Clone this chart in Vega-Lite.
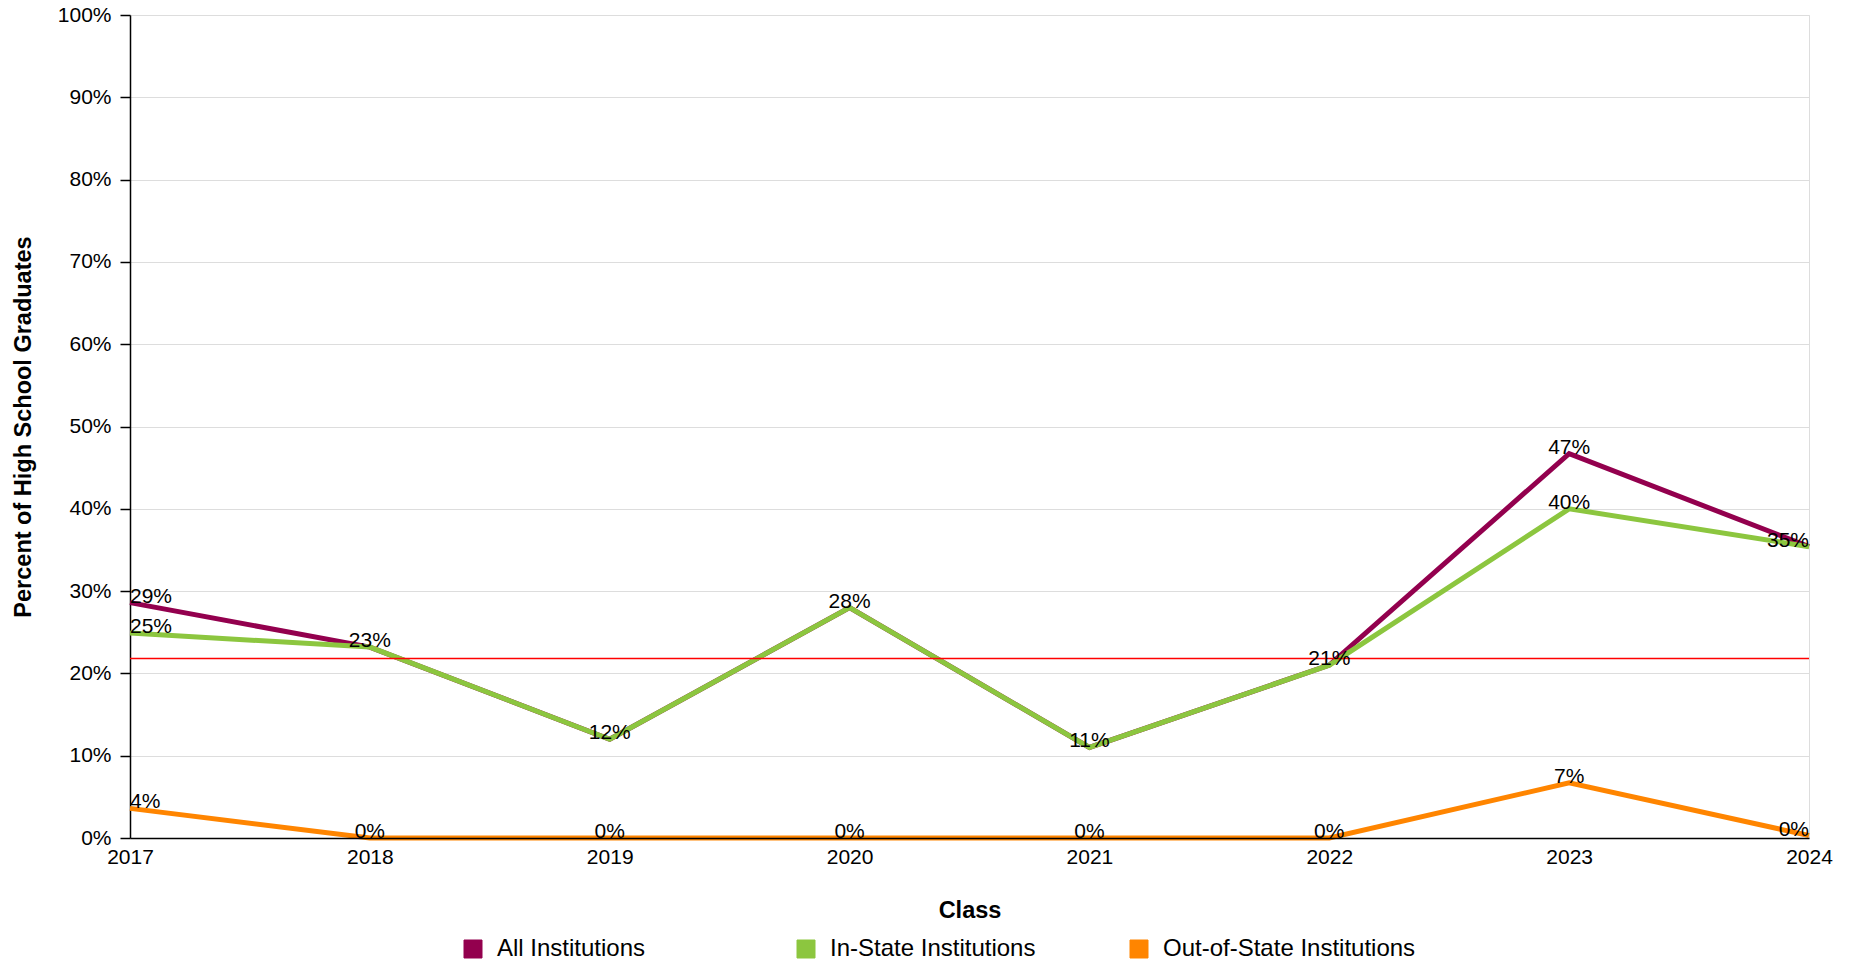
{
  "$schema": "https://vega.github.io/schema/vega-lite/v6.json",
  "width": 1679,
  "height": 823,
  "autosize": {"type": "none"},
  "padding": {"left": 130, "top": 15, "right": 47, "bottom": 126},
  "background": "white",
  "config": {"font": "Liberation Sans", "view": {"stroke": "#dddddd"}},
  "datasets": {
    "rates": [
      {"Class": "2017", "Series": "All Institutions", "Percent": 0.286},
      {"Class": "2018", "Series": "All Institutions", "Percent": 0.232},
      {"Class": "2019", "Series": "All Institutions", "Percent": 0.12},
      {"Class": "2020", "Series": "All Institutions", "Percent": 0.28},
      {"Class": "2021", "Series": "All Institutions", "Percent": 0.11},
      {"Class": "2022", "Series": "All Institutions", "Percent": 0.21},
      {"Class": "2023", "Series": "All Institutions", "Percent": 0.467},
      {"Class": "2024", "Series": "All Institutions", "Percent": 0.354},
      {"Class": "2017", "Series": "In-State Institutions", "Percent": 0.249},
      {"Class": "2018", "Series": "In-State Institutions", "Percent": 0.232},
      {"Class": "2019", "Series": "In-State Institutions", "Percent": 0.12},
      {"Class": "2020", "Series": "In-State Institutions", "Percent": 0.28},
      {"Class": "2021", "Series": "In-State Institutions", "Percent": 0.11},
      {"Class": "2022", "Series": "In-State Institutions", "Percent": 0.21},
      {"Class": "2023", "Series": "In-State Institutions", "Percent": 0.4},
      {"Class": "2024", "Series": "In-State Institutions", "Percent": 0.354},
      {"Class": "2017", "Series": "Out-of-State Institutions", "Percent": 0.036},
      {"Class": "2018", "Series": "Out-of-State Institutions", "Percent": 0},
      {"Class": "2019", "Series": "Out-of-State Institutions", "Percent": 0},
      {"Class": "2020", "Series": "Out-of-State Institutions", "Percent": 0},
      {"Class": "2021", "Series": "Out-of-State Institutions", "Percent": 0},
      {"Class": "2022", "Series": "Out-of-State Institutions", "Percent": 0},
      {"Class": "2023", "Series": "Out-of-State Institutions", "Percent": 0.067},
      {"Class": "2024", "Series": "Out-of-State Institutions", "Percent": 0.003}
    ],
    "reference": [{"Percent": 0.218}]
  },
  "data": {"name": "rates"},
  "layer": [
    {
      "mark": {"type": "line", "strokeWidth": 5},
      "encoding": {
        "x": {
          "field": "Class", "type": "ordinal",
          "scale": {"type": "point", "padding": 0},
          "axis": {
            "title": "Class", "titleFontSize": 23.5, "titleFontWeight": "bold", "titleColor": "black",
            "titlePadding": 31, "labelFontSize": 21, "labelColor": "black", "labelAngle": 0,
            "labelPadding": 8, "ticks": false, "domainColor": "black", "domainWidth": 1.5,
            "grid": false, "zindex": 1
          }
        },
        "y": {
          "field": "Percent", "type": "quantitative",
          "scale": {"domain": [0, 1], "nice": false},
          "axis": {
            "title": "Percent of High School Graduates", "titleFontSize": 23.5, "titleFontWeight": "bold",
            "titleColor": "black", "titlePadding": 22, "format": ".0%",
            "values": [0, 0.1, 0.2, 0.3, 0.4, 0.5, 0.6, 0.7, 0.8, 0.9, 1],
            "labelFontSize": 21, "labelColor": "black", "labelPadding": 9, "labelFlush": false,
            "labelOverlap": false, "tickColor": "black", "tickSize": 10, "tickWidth": 1.5,
            "domainColor": "black", "domainWidth": 1.5, "gridColor": "#dddddd", "gridWidth": 1.2
          }
        },
        "color": {
          "field": "Series", "type": "nominal",
          "scale": {
            "domain": ["All Institutions", "In-State Institutions", "Out-of-State Institutions"],
            "range": ["#93004e", "#8cc63f", "#ff8500"]
          },
          "legend": {
            "title": null, "orient": "none", "legendX": 331, "legendY": 922,
            "direction": "horizontal", "columns": 3, "gridAlign": "all", "columnPadding": 44,
            "labelFontSize": 24, "labelColor": "black", "labelOffset": 12, "labelLimit": 600,
            "symbolType": "square", "symbolSize": 324,
            "encode": {
              "symbols": {
                "update": {
                  "fill": {"scale": "color", "field": "value"},
                  "stroke": {"value": "#aaaaaa"},
                  "strokeWidth": {"value": 1},
                  "opacity": {"value": 1}
                }
              }
            }
          }
        }
      }
    },
    {
      "data": {"name": "reference"},
      "mark": {"type": "rule", "color": "#ff0000", "strokeWidth": 1.5},
      "encoding": {"y": {"field": "Percent", "type": "quantitative"}}
    },
    {
      "transform": [
        {"window": [{"op": "row_number", "as": "dup"}], "groupby": ["Class", "Percent"]},
        {"filter": "datum.dup == 1 && datum.Class == '2017'"}
      ],
      "mark": {"type": "text", "align": "left", "baseline": "alphabetic", "fontSize": 21, "color": "black"},
      "encoding": {
        "x": {"field": "Class", "type": "ordinal"},
        "y": {"field": "Percent", "type": "quantitative"},
        "text": {"field": "Percent", "type": "quantitative", "format": ".0%"}
      }
    },
    {
      "transform": [
        {"window": [{"op": "row_number", "as": "dup"}], "groupby": ["Class", "Percent"]},
        {"filter": "datum.dup == 1 && datum.Class != '2017' && datum.Class != '2024'"}
      ],
      "mark": {"type": "text", "align": "center", "baseline": "alphabetic", "fontSize": 21, "color": "black"},
      "encoding": {
        "x": {"field": "Class", "type": "ordinal"},
        "y": {"field": "Percent", "type": "quantitative"},
        "text": {"field": "Percent", "type": "quantitative", "format": ".0%"}
      }
    },
    {
      "transform": [
        {"window": [{"op": "row_number", "as": "dup"}], "groupby": ["Class", "Percent"]},
        {"filter": "datum.dup == 1 && datum.Class == '2024'"}
      ],
      "mark": {"type": "text", "align": "right", "baseline": "alphabetic", "fontSize": 21, "color": "black"},
      "encoding": {
        "x": {"field": "Class", "type": "ordinal"},
        "y": {"field": "Percent", "type": "quantitative"},
        "text": {"field": "Percent", "type": "quantitative", "format": ".0%"}
      }
    }
  ]
}
